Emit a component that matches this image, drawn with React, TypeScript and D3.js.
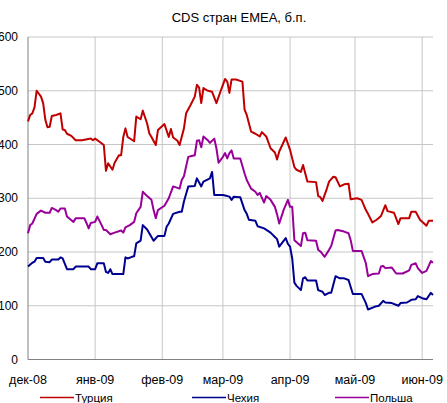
import * as d3 from 'd3';

// days since 1 Dec 2008, value in b.p.
const turkey: [number, number][] = [
  [0, 443], [1, 455], [2, 458], [3, 469], [4, 500], [6, 489], [7, 477], [8, 446], [9, 432], [10, 433],
  [11, 453], [13, 455], [15, 458], [16, 428], [17, 427], [18, 420], [20, 416], [22, 408], [25, 408],
  [29, 411], [30, 408], [31, 411], [33, 405], [35, 399], [36, 351], [37, 365], [39, 353], [40, 366],
  [42, 380], [43, 380], [44, 414], [45, 430], [46, 414], [49, 406], [50, 452], [52, 447], [53, 463],
  [55, 439], [56, 421], [57, 414], [59, 399], [60, 427], [63, 438], [65, 414], [66, 429], [67, 413],
  [69, 407], [70, 399], [72, 430], [73, 458], [75, 473], [77, 489], [78, 511], [79, 506], [80, 477],
  [81, 505], [83, 500], [85, 498], [87, 477], [89, 500], [90, 511], [91, 522], [92, 517], [93, 496],
  [94, 521], [96, 521], [99, 517], [100, 465], [101, 455], [103, 424], [105, 420], [107, 415],
  [108, 423], [110, 415], [112, 393], [114, 385], [115, 372], [116, 387], [119, 413], [121, 390],
  [123, 358], [124, 353], [126, 349], [127, 362], [129, 331], [133, 330], [134, 304], [135, 302],
  [136, 295], [138, 318], [139, 331], [141, 340], [142, 339], [144, 322], [146, 326], [148, 327],
  [149, 298], [152, 300], [154, 297], [156, 278], [157, 271], [159, 255], [161, 260], [163, 267],
  [165, 287], [166, 276], [169, 273], [171, 252], [172, 263], [176, 263], [177, 275], [179, 275],
  [181, 260], [184, 249], [185, 258], [187, 258],
];

const czech: [number, number][] = [
  [0, 173], [2, 180], [3, 182], [4, 189], [7, 189], [8, 182], [10, 181], [11, 186], [14, 186],
  [15, 190], [16, 188], [18, 168], [21, 168], [22, 173], [28, 173], [29, 168], [31, 168], [32, 179],
  [35, 179], [36, 163], [37, 161], [38, 168], [39, 159], [44, 159], [45, 190], [46, 188], [48, 191],
  [49, 192], [50, 216], [52, 221], [53, 250], [55, 242], [57, 228], [58, 221], [60, 230], [63, 230],
  [64, 247], [65, 253], [67, 271], [70, 275], [71, 275], [72, 294], [74, 322], [77, 323], [78, 337],
  [80, 322], [81, 331], [84, 337], [85, 349], [86, 306], [90, 306], [91, 305], [93, 303], [94, 297],
  [95, 303], [98, 302], [99, 290], [100, 278], [101, 271], [102, 260], [105, 258], [106, 248],
  [109, 244], [112, 236], [114, 228], [115, 224], [116, 210], [119, 226], [120, 215], [121, 210],
  [122, 188], [123, 143], [124, 137], [126, 129], [127, 151], [128, 153], [129, 147], [133, 147],
  [134, 129], [136, 126], [137, 120], [139, 124], [140, 124], [142, 155], [144, 151], [146, 151],
  [148, 148], [150, 122], [154, 122], [156, 105], [157, 93], [160, 98], [162, 100], [164, 109],
  [165, 106], [168, 105], [171, 100], [172, 105], [175, 106], [177, 111], [179, 112], [180, 118],
  [182, 114], [184, 112], [186, 124], [187, 120],
];

const poland: [number, number][] = [
  [0, 235], [1, 250], [2, 253], [4, 271], [6, 277], [8, 273], [10, 273], [11, 282], [13, 278],
  [14, 275], [15, 281], [17, 281], [18, 266], [21, 256], [22, 263], [26, 263], [27, 254], [28, 244],
  [29, 254], [31, 256], [32, 266], [34, 250], [35, 241], [36, 241], [38, 233], [40, 236], [43, 240],
  [44, 236], [45, 246], [47, 250], [49, 256], [50, 272], [52, 284], [53, 312], [55, 304], [57, 297],
  [58, 278], [59, 263], [60, 278], [63, 286], [65, 300], [67, 322], [70, 318], [71, 334], [72, 341],
  [74, 377], [76, 379], [77, 380], [78, 407], [79, 408], [80, 395], [81, 415], [83, 408], [84, 403],
  [86, 411], [87, 393], [88, 366], [90, 377], [91, 384], [92, 374], [93, 384], [94, 389], [95, 374],
  [98, 374], [99, 360], [100, 346], [101, 334], [103, 318], [105, 312], [106, 306], [107, 310],
  [109, 292], [110, 304], [112, 297], [114, 284], [115, 270], [116, 253], [118, 278], [120, 297],
  [121, 284], [122, 284], [123, 222], [126, 211], [127, 235], [128, 236], [129, 222], [133, 221],
  [134, 204], [135, 201], [137, 191], [139, 204], [140, 211], [142, 240], [143, 241], [146, 238],
  [148, 235], [149, 222], [150, 202], [154, 202], [156, 179], [157, 155], [159, 159], [162, 160],
  [163, 173], [164, 174], [165, 170], [168, 171], [170, 160], [173, 160], [176, 166], [177, 176],
  [179, 179], [180, 170], [182, 161], [184, 165], [186, 183], [187, 180],
];

const monthDates = ['2008-12-01', '2009-01-01', '2009-02-01', '2009-03-01', '2009-04-01', '2009-05-01', '2009-06-01'];
const monthLabels = ['дек-08', 'янв-09', 'фев-09', 'мар-09', 'апр-09', 'май-09', 'июн-09'];
const yTicks = [0, 100, 200, 300, 400, 500, 600];

const seriesNames = ['Турция', 'Чехия', 'Польша'];
const seriesColors = ['#c00000', '#000090', '#990099'];

const W = 447;
const H = 403;
const FONT = '"Liberation Sans", Arial, sans-serif';

export default function App() {
  const parse = d3.timeParse('%Y-%m-%d');
  const start = parse('2008-12-01') as Date;
  const toDate = (d: number) => d3.timeDay.offset(start, d);

  const x = d3.scaleTime().domain([start, toDate(187)]).range([28, 433]);
  const y = d3.scaleLinear().domain([0, 600]).range([359.5, 37]);

  const line = d3.line<[number, number]>()
    .x((d) => x(toDate(d[0])))
    .y((d) => y(d[1]));

  const allSeries = [turkey, czech, poland];
  const legendX = [40, 192, 335];

  return (
    <svg width={W} height={H} style={{ position: 'absolute', left: 0, top: 0, background: '#fff' }}
      fontFamily={FONT}>
      <text x={239} y={22} textAnchor="middle" fontSize={13} fill="#000">CDS стран EMEA, б.п.</text>

      {yTicks.slice(1).map((t) => (
        <line key={'gy' + t} x1={28} x2={433} y1={y(t)} y2={y(t)} stroke="#c6c6c6" strokeWidth={1} />
      ))}
      {monthDates.slice(1).map((m) => {
        const px = x(parse(m) as Date);
        return <line key={'gx' + m} x1={px} x2={px} y1={y(600)} y2={y(0)} stroke="#c6c6c6" strokeWidth={1} />;
      })}

      <line x1={28} x2={28} y1={y(600)} y2={y(0)} stroke="#808080" strokeWidth={1} />
      <line x1={28} x2={433} y1={y(0)} y2={y(0)} stroke="#808080" strokeWidth={1} />

      {yTicks.map((t) => (
        <text key={'ty' + t} x={18} y={y(t) + 4} textAnchor="end" fontSize={12} fill="#000">{t}</text>
      ))}
      {monthDates.map((m, i) => (
        <text key={'tx' + m} x={x(parse(m) as Date)} y={384} textAnchor="middle" fontSize={12.5} fill="#000">
          {monthLabels[i]}
        </text>
      ))}

      {allSeries.map((s, i) => (
        <path key={'s' + i} d={line(s) || ''} fill="none" stroke={seriesColors[i]} strokeWidth={2}
          strokeLinejoin="round" />
      ))}

      {seriesNames.map((n, i) => (
        <g key={'lg' + n}>
          <line x1={legendX[i]} x2={legendX[i] + 34} y1={397.5} y2={397.5} stroke={seriesColors[i]} strokeWidth={1.5} />
          <text x={legendX[i] + 35} y={401.5} fontSize={11.5} fill="#000">{n}</text>
        </g>
      ))}
    </svg>
  );
}
